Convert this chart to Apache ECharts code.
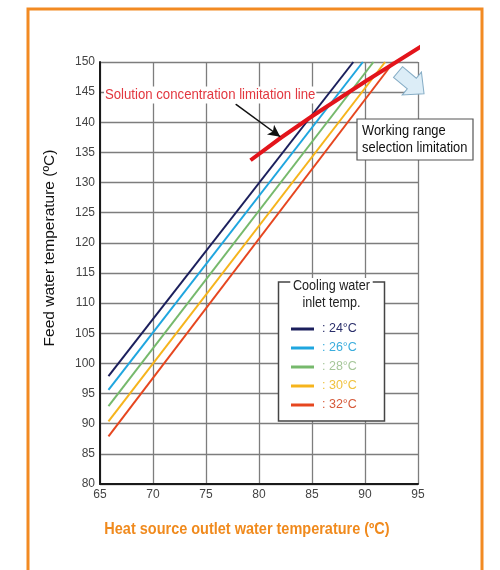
<!DOCTYPE html>
<html>
<head>
<meta charset="utf-8">
<script src="https://cdn.jsdelivr.net/npm/echarts@6/dist/echarts.min.js"></script>
<style>html,body{margin:0;padding:0;background:#fff}#c{width:500px;height:570px}</style>
</head>
<body>
<div id="c"></div>
<script>
// ---- data ----
var xTicks = [65, 70, 75, 80, 85, 90, 95];
var yTicks = [80, 85, 90, 95, 100, 105, 110, 115, 120, 125, 130, 135, 140, 145, 150];
var seriesNames = ['24°C', '26°C', '28°C', '30°C', '32°C'];
var line24 = [[65.8, 97.9], [88.9, 150]];
var line26 = [[65.8, 95.6], [89.8, 150]];
var line28 = [[65.8, 92.9], [90.8, 150]];
var line30 = [[65.8, 90.4], [91.9, 150]];
var line32 = [[65.8, 87.9], [92.7, 150]];
var limitLine = [[79.2, 133.7], [85.0, 141.0], [95.3, 152.6]];
var arrowFrom = [77.8, 143.0];
var arrowTo = [82.0, 137.6];

var FONT = "'Liberation Sans',Arial,sans-serif";
var lineColors = ['#1b1f5c', '#1fa6df', '#76b96c', '#f6b41c', '#e6461f'];
var textColors = ['#2b2f6b', '#3aaddd', '#a6c79a', '#f0c23e', '#d65a3a'];
var allLines = [line24, line26, line28, line30, line32];

var chart = echarts.init(document.getElementById('c'));
var series = allLines.map(function (d, i) {
  return {
    name: seriesNames[i], type: 'line', data: d, symbol: 'none',
    lineStyle: { color: lineColors[i], width: 2 }, itemStyle: { color: lineColors[i] },
    z: 3, silent: true
  };
});
series.push({
  name: 'limit', type: 'line', data: limitLine, symbol: 'none', clip: false, smooth: true,
  lineStyle: { color: '#e3141b', width: 4 }, z: 4, silent: true,
  markLine: {
    silent: true, symbol: ['none', 'arrow'], symbolSize: [9, 12],
    label: { show: false },
    lineStyle: { color: '#111', width: 1.5, type: 'solid' },
    data: [[{ coord: arrowFrom }, { coord: arrowTo }]]
  }
});

var option = {
  backgroundColor: '#fff',
  animation: false,
  grid: { left: 100, right: 82, top: 62, bottom: 86 },
  xAxis: {
    type: 'value', min: xTicks[0], max: xTicks[xTicks.length - 1], interval: 5,
    axisLine: { show: true, onZero: false, lineStyle: { color: '#1a1a1a', width: 2 } },
    axisTick: { show: false },
    axisLabel: { margin: 5, color: '#444', fontSize: 12, fontFamily: FONT },
    splitLine: { show: true, lineStyle: { color: '#7d7d7d', width: 1.3 } }
  },
  yAxis: {
    type: 'value', min: yTicks[0], max: yTicks[yTicks.length - 1], interval: 5,
    axisLine: { show: true, onZero: false, lineStyle: { color: '#1a1a1a', width: 2 } },
    axisTick: { show: false },
    axisLabel: { margin: 5, color: '#444', fontSize: 12, fontFamily: FONT },
    splitLine: { show: true, lineStyle: { color: '#7d7d7d', width: 1.3 } }
  },
  legend: {
    orient: 'vertical', left: 291, top: 322, padding: 0, z: 20,
    itemWidth: 23, itemHeight: 3, itemGap: 5, icon: 'rect',
    selectedMode: false,
    formatter: function (n) { return ': ' + n; },
    textStyle: { fontSize: 12.5, lineHeight: 14, fontFamily: FONT, padding: [0, 0, 0, 3] },
    data: seriesNames.map(function (n, i) { return { name: n, textStyle: { color: textColors[i] } }; })
  },
  graphic: [
    { type: 'rect', shape: { x: 28, y: 9, width: 454, height: 580 }, style: { fill: 'none', stroke: '#f28a22', lineWidth: 3 }, z: 100 },
    // axis names
    { type: 'text', x: 50, y: 248, rotation: Math.PI / 2, z: 10,
      style: { text: 'Feed water temperature (ºC)', align: 'center', verticalAlign: 'middle', fill: '#111', fontSize: 15.5, fontFamily: FONT } },
    { type: 'text', x: 247, y: 530, scaleX: 0.905, z: 10,
      style: { text: 'Heat source outlet water temperature (ºC)', align: 'center', verticalAlign: 'middle', fill: '#f08a1d', fontSize: 16, fontWeight: 'bold', fontFamily: FONT } },
    // legend box
    { type: 'rect', shape: { x: 278.5, y: 282, width: 106, height: 139 }, style: { fill: '#fff', stroke: '#444', lineWidth: 1.5 }, z: 5 },
    { type: 'text', x: 331.5, y: 278, scaleX: 0.9, z: 6, style: { text: 'Cooling water\ninlet temp.', align: 'center', verticalAlign: 'top', fill: '#222', fontSize: 14, lineHeight: 17, fontFamily: FONT, backgroundColor: '#fff', padding: [0, 3, 0, 3] } },
    // solution text
    { type: 'text', x: 104, y: 95, scaleX: 0.91, z: 6, style: { text: 'Solution concentration limitation line', verticalAlign: 'middle', fill: '#e2373f', fontSize: 14.5, fontFamily: FONT, backgroundColor: '#fff', padding: [1, 1, 1, 1] } },
    // working range box
    { type: 'rect', shape: { x: 357, y: 119, width: 116, height: 41 }, style: { fill: '#fff', stroke: '#555', lineWidth: 1.2 }, z: 6 },
    { type: 'text', x: 362, y: 122, scaleX: 0.89, z: 7, style: { text: 'Working range\nselection limitation', verticalAlign: 'top', fill: '#111', fontSize: 14.5, lineHeight: 17, fontFamily: FONT } },
    // light blue hollow arrow
    { type: 'polygon', x: 398, y: 72, rotation: -Math.PI / 4.5, z: 6,
      shape: { points: [[0, -7], [18, -7], [18, -15], [34, 0], [18, 15], [18, 7], [0, 7]] },
      style: { fill: '#dcedf7', stroke: '#86adc6', lineWidth: 1 } }
  ],
  series: series
};
chart.setOption(option);
</script>
</body>
</html>
